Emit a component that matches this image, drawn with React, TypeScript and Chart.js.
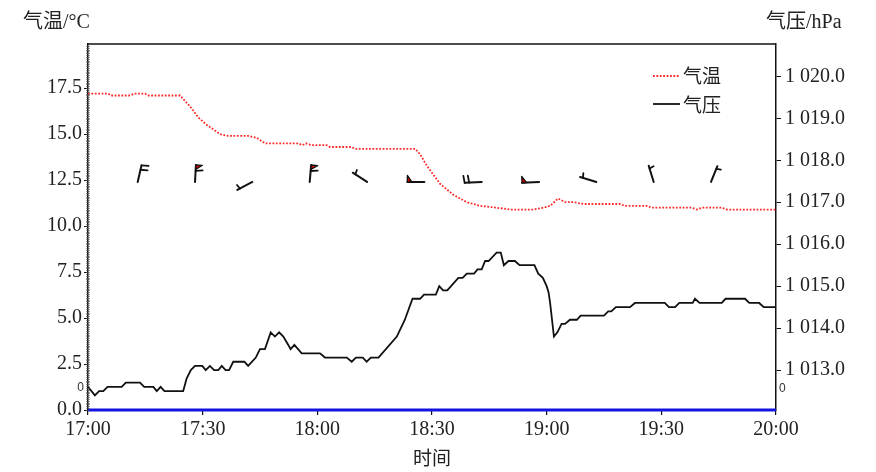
import React, { useEffect, useRef } from "react";
import { Chart, registerables } from "chart.js";

Chart.register(...registerables);

const SERIF = '"Liberation Serif", "Times New Roman", "Noto Sans CJK SC", serif';

// minutes after 17:00
const timeTicks = [0, 30, 60, 90, 120, 150, 180];
const leftTitle = "气温/°C";
const rightTitle = "气压/hPa";
const xTitle = "时间";
const tempLabel = "气温";
const presLabel = "气压";

const tempTimes = [
  0, 5.3, 6, 11, 12.1, 14.9, 15.8, 24.1, 25.4, 27.1, 28.9, 31.1, 33.2, 34.5, 36.7, 41.9, 44.1, 46.3,
  55, 56.1, 57, 58.5, 62.4, 63.3, 69, 69.9, 85.6, 86.9, 88.6, 92.1, 95.6, 99.1, 102.6, 106.9, 110.4,
  116.5, 119.1, 120.9, 123, 124.8, 127, 129.6, 139.2, 140.5, 146.2, 147.5, 157.9, 159.3, 160.6, 165.8,
  167.2, 180,
];
const tempValues = [
  17.2, 17.2, 17.1, 17.1, 17.2, 17.2, 17.1, 17.1, 16.8, 16.4, 15.9, 15.5, 15.2, 15.0, 14.9, 14.9, 14.8, 14.5,
  14.5, 14.4, 14.5, 14.4, 14.4, 14.3, 14.3, 14.2, 14.2, 13.9, 13.3, 12.3, 11.7, 11.3, 11.1, 11.0, 10.9,
  10.9, 11.0, 11.1, 11.5, 11.3, 11.3, 11.2, 11.2, 11.1, 11.1, 11.0, 11.0, 10.9, 11.0, 11.0,
  10.9, 10.9,
];

const presTimes = [
  0, 1.8, 2.9, 4, 5.1, 8.8, 9.9, 13.6, 14.7, 17.1, 18, 19, 20, 24.9, 25.8, 26.9, 28, 29.9, 30.8, 31.9,
  33, 34.1, 35, 36, 36.9, 38, 40.9, 41.9, 43.9, 45, 46.3, 47.8, 48.9, 50, 51.1, 52.4, 53, 54, 55.9,
  60.7, 62, 67.7, 69, 70.1, 71.9, 72.9, 74, 76, 80.8, 82.9, 84.9, 86.9, 87.9, 91, 91.9, 92.9, 94,
  96.9, 98, 99.1, 101, 101.9, 103, 103.9, 104.8, 106.9, 108, 108.8, 110, 111.7, 112.9, 116.8, 117.8,
  119, 120, 120.5, 120.9, 121.9, 122.8, 123.9, 124.8, 126.1, 127.9, 128.9, 135, 136.1, 136.9, 138.1,
  141.8, 143.1, 150.9, 152, 153.6, 154.7, 158.2, 158.8, 160, 165.8, 166.8, 171.9, 173, 175.6, 176.8, 180,
];
const presValues = [
  1012.6, 1012.4, 1012.5, 1012.5, 1012.6, 1012.6, 1012.7, 1012.7, 1012.6, 1012.6, 1012.5, 1012.6, 1012.5,
  1012.5, 1012.8, 1013.0, 1013.1, 1013.1, 1013.0, 1013.1, 1013.0, 1013.0, 1013.1, 1013.0, 1013.0, 1013.2,
  1013.2, 1013.1, 1013.3, 1013.5, 1013.5, 1013.9, 1013.8, 1013.9, 1013.8, 1013.6, 1013.5, 1013.6, 1013.4,
  1013.4, 1013.3, 1013.3, 1013.2, 1013.3, 1013.3, 1013.2, 1013.3, 1013.3, 1013.8, 1014.2, 1014.7, 1014.7,
  1014.8, 1014.8, 1015.0, 1014.9, 1014.9, 1015.2, 1015.2, 1015.3, 1015.3, 1015.4, 1015.4, 1015.6, 1015.6,
  1015.8, 1015.8, 1015.5, 1015.6, 1015.6, 1015.5, 1015.5, 1015.3, 1015.2, 1015.0, 1014.85, 1014.6, 1013.8,
  1013.9, 1014.1, 1014.1, 1014.2, 1014.2, 1014.3, 1014.3, 1014.4, 1014.4, 1014.5, 1014.5, 1014.6, 1014.6,
  1014.5, 1014.5, 1014.6, 1014.6, 1014.7, 1014.6, 1014.6, 1014.7, 1014.7, 1014.6, 1014.6, 1014.5, 1014.5,
];

const baseTimes = [0, 180];
const baseValues = [0, 0];

// wind barbs: time (min), direction (deg, clockwise from up), speed code
const windTimes = [13, 28, 43, 58, 73, 88, 103, 118, 133, 148, 163];
const windDir = [13, 3, 242, 5, 303, 270, 267, 267, 287, 343, 22];
const windSpeed = [20, 60, 5, 60, 5, 50, 20, 50, 5, 5, 5];
const windLevel = 12.4;

function fmtTime(v: number) {
  const h = 17 + Math.floor(v / 60);
  const m = Math.round(v % 60);
  return `${h}:${String(m).padStart(2, "0")}`;
}

function drawBarb(ctx: CanvasRenderingContext2D, x: number, y: number, dirDeg: number, speed: number) {
  const len = 17;
  const a = (dirDeg * Math.PI) / 180;
  const dx = Math.sin(a);
  const dy = -Math.cos(a);
  const rx = -dy;
  const ry = dx;
  const tx = x + dx * len;
  const ty = y + dy * len;
  ctx.save();
  ctx.strokeStyle = "#111";
  ctx.lineWidth = 2;
  ctx.lineCap = "round";
  ctx.lineJoin = "round";
  ctx.beginPath();
  ctx.moveTo(x, y);
  ctx.lineTo(tx, ty);
  ctx.stroke();
  let s = speed;
  let pos = 0;
  while (s >= 50) {
    const p0x = tx - dx * pos, p0y = ty - dy * pos;
    ctx.beginPath();
    ctx.moveTo(p0x, p0y);
    ctx.lineTo(p0x + rx * 6.5, p0y + ry * 6.5);
    ctx.lineTo(p0x - dx * 4.5, p0y - dy * 4.5);
    ctx.closePath();
    ctx.fillStyle = "#d00000";
    ctx.fill();
    ctx.lineWidth = 1.3;
    ctx.stroke();
    pos += 6;
    s -= 50;
  }
  ctx.lineWidth = 1.8;
  while (s >= 10) {
    const px = tx - dx * pos, py = ty - dy * pos;
    ctx.beginPath();
    ctx.moveTo(px, py);
    ctx.lineTo(px + rx * 7 + dx * 1, py + ry * 7 + dy * 1);
    ctx.stroke();
    pos += 4.5;
    s -= 10;
  }
  if (s >= 5) {
    if (pos === 0) pos = 3;
    const px = tx - dx * pos, py = ty - dy * pos;
    ctx.beginPath();
    ctx.moveTo(px, py);
    ctx.lineTo(px + rx * 4.5 + dx * 1, py + ry * 4.5 + dy * 1);
    ctx.stroke();
  }
  ctx.restore();
}

const overlay = {
  id: "overlay",
  afterDraw(chart: any) {
    const { ctx, chartArea: ca, scales } = chart;
    const xs = scales.x;
    const ys = scales.y;
    ctx.save();
    // top frame line
    ctx.strokeStyle = "#111";
    ctx.lineWidth = 1.5;
    ctx.beginPath();
    ctx.moveTo(ca.left, ca.top);
    ctx.lineTo(ca.right, ca.top);
    ctx.stroke();
    // dense minor ticks on left axis
    ctx.strokeStyle = "#555";
    ctx.lineWidth = 0.7;
    for (let v = 0; v <= ys.max; v += 0.1) {
      const py = Math.round(ys.getPixelForValue(v)) + 0.5;
      ctx.beginPath();
      ctx.moveTo(ca.left - 1.8, py);
      ctx.lineTo(ca.left + 1.8, py);
      ctx.stroke();
    }
    // axis titles at top
    ctx.fillStyle = "#222";
    ctx.font = `20px ${SERIF}`;
    ctx.textBaseline = "middle";
    ctx.textAlign = "left";
    ctx.fillText(leftTitle, ca.left - 65, 23);
    ctx.fillText(rightTitle, ca.right - 10, 23);
    // legend
    ctx.font = `19px ${SERIF}`;
    ctx.strokeStyle = "#ff2b2b";
    ctx.lineWidth = 1.8;
    ctx.setLineDash([1.8, 1.6]);
    ctx.beginPath();
    ctx.moveTo(ca.right - 123, ca.top + 32);
    ctx.lineTo(ca.right - 97, ca.top + 32);
    ctx.stroke();
    ctx.setLineDash([]);
    ctx.strokeStyle = "#111";
    ctx.beginPath();
    ctx.moveTo(ca.right - 123, ca.top + 60);
    ctx.lineTo(ca.right - 96, ca.top + 60);
    ctx.stroke();
    ctx.fillText(tempLabel, ca.right - 93, ca.top + 34);
    ctx.fillText(presLabel, ca.right - 93, ca.top + 63);
    // small zero markers
    ctx.font = `12px "Liberation Sans", sans-serif`;
    ctx.fillStyle = "#333";
    ctx.textAlign = "right";
    ctx.fillText("0", ca.left - 4, ca.bottom - 22);
    ctx.textAlign = "left";
    ctx.fillText("0", ca.right + 3, ca.bottom - 21);
    // wind barbs
    for (let i = 0; i < windTimes.length; i++) {
      const bx = xs.getPixelForValue(windTimes[i]);
      const by = ys.getPixelForValue(windLevel);
      drawBarb(ctx, bx, by, windDir[i], windSpeed[i]);
    }
    ctx.restore();
  },
};

export default function App() {
  const ref = useRef<HTMLCanvasElement | null>(null);
  useEffect(() => {
    if (!ref.current) return;
    const chart = new Chart(ref.current, {
      type: "line",
      data: {
        datasets: [
          {
            label: tempLabel,
            data: tempTimes.map((t, i) => ({ x: t, y: tempValues[i] })),
            borderColor: "#ff2b2b",
            borderWidth: 1.8,
            borderDash: [1.8, 1.6],
            pointRadius: 0,
            tension: 0,
            yAxisID: "y",
          },
          {
            label: presLabel,
            data: presTimes.map((t, i) => ({ x: t, y: presValues[i] })),
            borderColor: "#111111",
            borderWidth: 1.8,
            pointRadius: 0,
            tension: 0,
            yAxisID: "y1",
          },
          {
            label: "base",
            data: baseTimes.map((t, i) => ({ x: t, y: baseValues[i] })),
            borderColor: "#1414e0",
            borderWidth: 3,
            pointRadius: 0,
            yAxisID: "y",
            clip: false as any,
          },
        ],
      },
      options: {
        animation: false,
        responsive: true,
        maintainAspectRatio: false,
        layout: { padding: { top: 44, left: 0, right: 0, bottom: 0 } },
        plugins: { legend: { display: false }, tooltip: { enabled: false } },
        scales: {
          x: {
            type: "linear",
            min: 0,
            max: 180,
            afterFit: (s: any) => {
              s.height = 62;
            },
            afterBuildTicks: (s: any) => {
              s.ticks = timeTicks.map((v) => ({ value: v }));
            },
            grid: { drawOnChartArea: false, drawTicks: true, tickLength: 5, color: "#111", lineWidth: 1.2 },
            border: { display: false },
            ticks: {
              callback: (v: any) => fmtTime(Number(v)),
              color: "#222",
              padding: 3,
              maxRotation: 0,
              font: { family: SERIF, size: 20 },
            },
            title: {
              display: true,
              text: xTitle,
              color: "#222",
              font: { family: SERIF, size: 19 },
              padding: { top: 0, bottom: 1 },
            },
          },
          y: {
            type: "linear",
            position: "left",
            min: 0,
            max: 19.9,
            afterFit: (s: any) => {
              s.width = 88;
            },
            grid: { drawOnChartArea: false, drawTicks: true, tickLength: 4, color: "#111" },
            border: { display: true, color: "#111", width: 1.5 },
            ticks: {
              stepSize: 2.5,
              includeBounds: false,
              callback: (v: any) => Number(v).toFixed(1),
              color: "#222",
              padding: 2,
              font: { family: SERIF, size: 20 },
            },
          },
          y1: {
            type: "linear",
            position: "right",
            min: 1012.05,
            max: 1020.77,
            afterFit: (s: any) => {
              s.width = 100;
            },
            grid: { drawOnChartArea: false, drawTicks: true, tickLength: 5, color: "#111" },
            border: { display: true, color: "#111", width: 1.5 },
            ticks: {
              stepSize: 1,
              includeBounds: false,
              callback: (v: any) => {
                const n = Number(v);
                const rest = (n - 1000).toFixed(1).padStart(5, "0");
                return `1 ${rest}`;
              },
              color: "#222",
              padding: 4,
              font: { family: SERIF, size: 20 },
            },
          },
        },
      },
      plugins: [overlay],
    });
    return () => chart.destroy();
  }, []);
  return (
    <div style={{ position: "fixed", left: 0, top: 0, width: 876, height: 472, background: "#fff" }}>
      <canvas ref={ref} />
    </div>
  );
}
